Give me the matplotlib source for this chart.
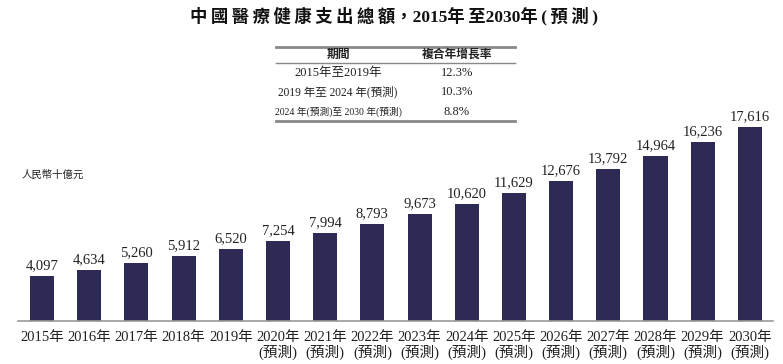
import matplotlib
matplotlib.use('Agg')
import matplotlib.pyplot as plt
import numpy as np

FAM = ['Liberation Serif', 'Noto Sans CJK TC']
plt.rcParams['font.family'] = FAM

# ---- data ----
years = ['2015年', '2016年', '2017年', '2018年', '2019年', '2020年', '2021年', '2022年',
         '2023年', '2024年', '2025年', '2026年', '2027年', '2028年', '2029年', '2030年']
forecast = [False] * 5 + [True] * 11
values = [4097, 4634, 5260, 5912, 6520, 7254, 7994, 8793,
          9673, 10620, 11629, 12676, 13792, 14964, 16236, 17616]

tbl_head = ['期間', '複合年增長率']
tbl_period = ['2015年至2019年', '2019 年至 2024 年(預測)', '2024 年(預測)至 2030 年(預測)']
tbl_cagr = ['12.3%', '10.3%', '8.8%']

BAR = '#2d2b56'
TXT = '#222222'

W, H = 783, 364
fig = plt.figure(figsize=(W / 100, H / 100), dpi=100)

# axes: baseline at y=321px, x from 18 to 773 px
ax = fig.add_axes([18 / W, 1 - 321 / H, (773 - 18) / W, 200 / H])
x = np.arange(len(values))
ax.bar(x, values, width=0.51, color=BAR, zorder=2)
ax.set_xlim(-0.51, len(values) - 0.51)
ax.set_ylim(0, 200 / 194 * 17616)
for s in ['top', 'right', 'left']:
    ax.spines[s].set_visible(False)
ax.spines['bottom'].set_color('#999999')
ax.spines['bottom'].set_linewidth(1.2)
ax.set_yticks([])
ax.set_xticks(x)
ax.set_xticklabels([y + ('\n(預測)' if f else '') for y, f in zip(years, forecast)],
                   fontsize=10.5, color=TXT, linespacing=1.1)
ax.tick_params(axis='x', length=0, pad=7)
for xi, v in zip(x, values):
    ax.annotate(f'{v:,}', (xi, v), xytext=(0, 3), textcoords='offset points',
                ha='center', va='bottom', fontsize=10.5, color=TXT)

# title (letter-spaced like the original)
title = '中\u2009國\u2009醫\u2009療\u2009健\u2009康\u2009支\u2009出\u2009總\u2009額，2015年\u2009至2030年\u2009(\u2009預\u2009測\u2009)'
fig.text(394 / W, 1 - 16 / H, title,
         ha='center', va='center', fontsize=12.5, fontweight='bold', color='#111111')

# unit label
fig.text(22 / W, 1 - 175 / H, '人民幣十億元', ha='left', va='center', fontsize=7.5, color=TXT)

# CAGR table
tx0, tx1 = 276 / W, 515 / W
c1, c2 = 338 / W, 457 / W
for yy, lw in [(46.5, 2.0), (63, 1.0), (121, 2.0)]:
    fig.add_artist(plt.Line2D([tx0, tx1], [1 - yy / H] * 2, color='#888888', lw=lw))
fig.text(c1, 1 - 55 / H, tbl_head[0], ha='center', va='center', fontsize=8.5,
         fontweight='bold', color=TXT)
fig.text(c2, 1 - 55 / H, tbl_head[1], ha='center', va='center', fontsize=8.5,
         fontweight='bold', color=TXT)
row_y = [72.7, 91.7, 111.7]
row_fs = [9, 8.3, 7]
for yy, p, c, fs in zip(row_y, tbl_period, tbl_cagr, row_fs):
    fig.text(c1, 1 - yy / H, p, ha='center', va='center', fontsize=fs, color=TXT)
    fig.text(c2, 1 - yy / H, c, ha='center', va='center', fontsize=9, color=TXT)

fig.savefig('out.png', dpi=100)
